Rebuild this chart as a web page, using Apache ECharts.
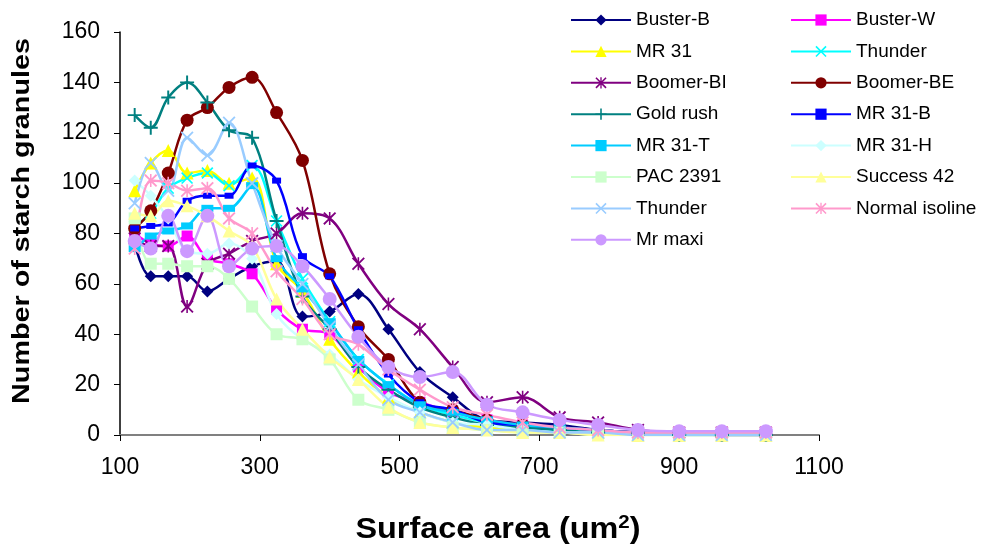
<!DOCTYPE html>
<html>
<head>
<meta charset="utf-8">
<script src="https://cdn.jsdelivr.net/npm/echarts@6/dist/echarts.min.js"></script>
<style>html,body{margin:0;padding:0;background:#fff;}#c{width:981px;height:549px;}</style>
</head>
<body>
<div id="c"></div>
<script>
// ---- data ----
const xValues = [121,144,169,196,225,256,289,324,361,400,441,484,529,576,625,676,729,784,841,900,961,1024];
const xTicks = [100,300,500,700,900,1100];
const yTicks = [0,20,40,60,80,100,120,140,160];

const seriesNames = ['Buster-B','Buster-W','MR 31','Thunder','Boomer-BI','Boomer-BE','Gold rush','MR 31-B','MR 31-T','MR 31-H','PAC 2391','Success 42','Thunder ','Normal isoline','Mr maxi'];

const busterB      = [76,63,63,63,57,62,67,69,47,49,56,42,25,15,6,5,4,2,1,1,1,0];
const busterW      = [80,76,75,79,70,68,64,50,42,40,27,17,13,9,6,4,3,2,1,1,1,1];
const mr31         = [97,108,113,104,105,100,102,68,57,38,25,15,9,5,3,2,1,1,0,0,0,0];
const thunder      = [83,88,98,102,104,99,107,85,62,45,30,20,12,8,5,3,2,1,1,0,0,0];
const boomerBI     = [78,75,75,51,68,72,77,80,88,86,68,52,42,27,13,15,7,5,2,1,1,1];
const boomerBE     = [82,89,104,125,130,138,142,128,109,64,43,30,13,10,6,4,3,2,1,1,0,0];
const goldRush     = [127,122,134,140,132,121,118,85,55,42,27,18,11,7,4,3,2,1,1,0,0,0];
const mr31B        = [82,83,84,93,95,95,107,101,71,63,42,24,13,10,5,4,3,2,1,1,0,0];
const mr31T        = [74,79,81,83,90,90,99,70,58,45,30,20,12,9,6,4,3,2,1,1,1,1];
const mr31H        = [101,95,86,73,72,76,70,48,38,32,22,15,9,5,4,2,1,1,0,0,0,0];
const pac2391      = [86,68,68,67,67,62,51,40,38,30,14,10,5,3,2,1,1,0,0,0,0,0];
const success42    = [88,87,93,91,87,81,75,54,42,31,22,11,5,3,2,1,1,0,0,0,0,0];
const thunder2     = [92,108,97,118,111,124,100,75,60,43,28,14,9,5,2,2,1,1,0,0,0,0];
const normalIsoline= [74,101,100,97,98,86,80,65,54,40,36,26,18,11,8,5,3,2,1,1,1,1];
const mrMaxi       = [77,74,87,73,87,67,74,75,67,54,39,27,23,25,12,9,6,4,2,1.5,1.5,1.5];

const allValues = [busterB,busterW,mr31,thunder,boomerBI,boomerBE,goldRush,mr31B,mr31T,mr31H,pac2391,success42,thunder2,normalIsoline,mrMaxi];

// ---- styles ----
const FONT = 'Liberation Sans, Arial, Helvetica, sans-serif';
const X_PATH = 'path://M1,0L5,4L9,0L10,1L6,5L10,9L9,10L5,6L1,10L0,9L4,5L0,1Z';
const STAR_PATH = 'path://M1,0L5,4L9,0L10,1L6,5L10,9L9,10L5,6L1,10L0,9L4,5L0,1Z M4.4,0L5.6,0L5.6,10L4.4,10Z';
const PLUS_PATH = 'path://M4.3,0L5.7,0L5.7,4.3L10,4.3L10,5.7L5.7,5.7L5.7,10L4.3,10L4.3,5.7L0,5.7L0,4.3L4.3,4.3Z';

const styles = [
  {color:'#000080', symbol:'diamond', size:12},
  {color:'#FF00FF', symbol:'rect', size:11},
  {color:'#FFFF00', symbol:'triangle', size:13},
  {color:'#00FFFF', symbol:X_PATH, size:12},
  {color:'#800080', symbol:STAR_PATH, size:13},
  {color:'#800000', symbol:'circle', size:13},
  {color:'#008080', symbol:PLUS_PATH, size:14},
  {color:'#0000FF', symbol:'rect', size:[9,6]},
  {color:'#00CCFF', symbol:'rect', size:[12,7]},
  {color:'#CCFFFF', symbol:'diamond', size:12},
  {color:'#CCFFCC', symbol:'rect', size:12},
  {color:'#FFFF99', symbol:'triangle', size:13},
  {color:'#99CCFF', symbol:X_PATH, size:13},
  {color:'#FF99CC', symbol:STAR_PATH, size:13},
  {color:'#CC99FF', symbol:'circle', size:14}
];

const series = seriesNames.map((name, k) => ({
  name: name,
  type: 'line',
  smooth: 0.35,
  data: xValues.map((x, i) => [x, allValues[k][i]]),
  symbol: styles[k].symbol,
  symbolSize: styles[k].size,
  showSymbol: true,
  lineStyle: {color: styles[k].color, width: 2.5},
  itemStyle: {color: styles[k].color, borderWidth: 0},
  emphasis: {disabled: true},
  z: 2
}));

const leftCol = seriesNames.filter((n, i) => i % 2 === 0);
const rightCol = seriesNames.filter((n, i) => i % 2 === 1);

function legendAt(left, data) {
  return {
    orient: 'vertical', left: left, top: 10, padding: 0,
    itemWidth: 60, itemHeight: 14, itemGap: 11.4,
    selectedMode: false, data: data,
    textStyle: {fontSize: 19, color: '#000', fontFamily: FONT, lineHeight: 20}
  };
}

const chart = echarts.init(document.getElementById('c'), null, {renderer: 'canvas'});
chart.setOption({
  animation: false,
  backgroundColor: '#ffffff',
  textStyle: {fontFamily: FONT},
  grid: {left: 120, right: 162, top: 32, bottom: 114, containLabel: false},
  xAxis: {
    type: 'value', min: xTicks[0], max: xTicks[xTicks.length-1], interval: xTicks[1]-xTicks[0],
    axisLine: {show: true, onZero: false, lineStyle: {color: '#808080', width: 2}},
    axisTick: {show: true, length: 6, lineStyle: {color: '#000', width: 1}},
    axisLabel: {fontSize: 23, color: '#000', margin: 21, fontFamily: FONT, formatter: v => String(v)},
    splitLine: {show: false}
  },
  yAxis: {
    type: 'value', min: yTicks[0], max: yTicks[yTicks.length-1], interval: yTicks[1]-yTicks[0],
    axisLine: {show: true, onZero: false, lineStyle: {color: '#000', width: 1.5}},
    axisTick: {show: true, length: 6, lineStyle: {color: '#000', width: 1}},
    axisLabel: {fontSize: 23, color: '#000', margin: 20, fontFamily: FONT, formatter: v => String(v)},
    splitLine: {show: false}
  },
  legend: [legendAt(570, leftCol), legendAt(790, rightCol)],
  graphic: [
    {
      type: 'text', x: 23, y: 221, rotation: Math.PI / 2, scaleX: 1.25, scaleY: 1,
      style: {text: 'Number of starch granules', fontSize: 23, fontWeight: 'bold', fontFamily: FONT,
              fill: '#000', align: 'center', verticalAlign: 'middle'}
    },
    {
      type: 'text', x: 498, y: 530, scaleX: 1.08, scaleY: 1,
      style: {
        text: '{a|Surface area (um}{s|2}{a|)}',
        fill: '#000', align: 'center', verticalAlign: 'middle',
        rich: {
          a: {fontSize: 30, fontWeight: 'bold', fontFamily: FONT, lineHeight: 34, fill: '#000'},
          s: {fontSize: 19, fontWeight: 'bold', fontFamily: FONT, verticalAlign: 'top', fill: '#000'}
        }
      }
    }
  ],
  series: series
});
</script>
</body>
</html>
